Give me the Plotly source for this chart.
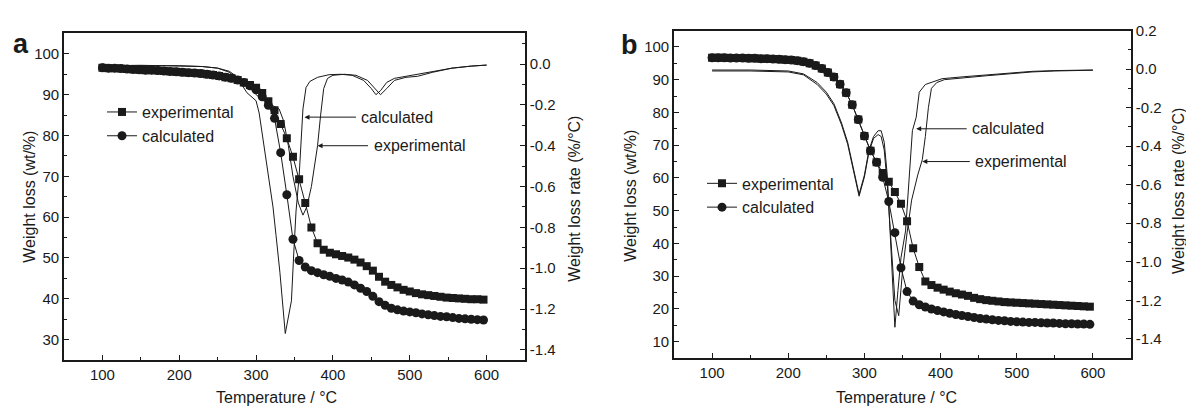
import plotly.graph_objects as go

# ---------------- data ----------------
temps = [100,108,116,124,132,140,148,156,164,172,180,188,196,204,212,220,228,236,244,252,
         260,268,276,284,292,300,308,316,324,332,340,348,356,364,372,380,388,396,404,412,
         420,428,436,444,452,460,468,476,484,492,500,508,516,524,532,540,548,556,564,572,
         580,588,596]

a_tg_exp = [96.6,96.5,96.5,96.4,96.3,96.2,96.1,96.0,96.0,95.9,95.8,95.7,95.6,95.5,95.4,95.3,95.2,95.0,94.8,94.6,
            94.3,94.0,93.6,93.0,92.4,91.7,90.4,88.4,86.2,82.8,79.3,74.8,69.3,63.5,57.5,53.6,52.0,51.3,50.9,50.5,
            50.1,49.6,48.9,48.0,46.9,45.4,44.2,43.4,42.8,42.2,41.8,41.4,41.1,40.9,40.7,40.5,40.3,40.2,40.1,40.0,
            39.9,39.9,39.8]
a_tg_calc = [96.6,96.5,96.5,96.4,96.3,96.2,96.1,96.0,96.0,95.9,95.8,95.7,95.6,95.5,95.4,95.3,95.2,95.0,94.8,94.6,
             94.3,94.0,93.6,93.0,92.2,91.2,89.5,87.4,84.2,75.8,65.5,54.6,49.4,47.8,46.9,46.4,45.9,45.5,45.0,44.6,
             44.1,43.4,42.6,41.8,40.6,39.3,38.4,37.7,37.3,37.0,36.8,36.6,36.3,36.1,35.9,35.7,35.6,35.4,35.2,35.1,
             35.0,34.9,34.8]
b_tg_exp = [96.7,96.7,96.7,96.6,96.6,96.6,96.5,96.5,96.4,96.4,96.3,96.2,96.1,96.0,95.8,95.5,95.0,94.3,93.4,92.2,
            90.8,88.6,86.0,82.3,77.8,72.8,68.3,64.8,61.5,58.8,55.7,52.1,46.8,38.5,32.8,28.4,27.3,26.5,25.9,25.3,
            24.8,24.4,24.0,23.4,23.0,22.7,22.5,22.3,22.1,22.0,21.9,21.8,21.7,21.6,21.5,21.4,21.3,21.2,21.1,21.0,
            20.9,20.8,20.7]
b_tg_calc = [96.7,96.7,96.7,96.6,96.6,96.6,96.5,96.5,96.4,96.4,96.3,96.2,96.1,96.0,95.8,95.5,95.0,94.3,93.4,92.2,
             90.8,88.6,86.0,82.3,77.8,72.8,68.3,64.8,60.2,52.8,43.3,32.6,25.3,22.4,21.3,20.6,20.0,19.5,19.1,18.7,
             18.3,18.0,17.7,17.4,17.1,16.9,16.7,16.5,16.4,16.2,16.1,16.0,15.9,15.9,15.8,15.7,15.7,15.6,15.5,15.5,
             15.4,15.4,15.3]

a_dtg_calc_T = [100,110,150,200,230,250,265,278,288,295,300,304,310,316,322,326,331,338,346,349,
                352,356,359,361,365,370,380,395,410,425,440,450,456,462,470,480,495,510,530,555,580,600]
a_dtg_calc = [0.0,-0.01,-0.008,-0.008,-0.012,-0.02,-0.04,-0.08,-0.14,-0.165,-0.18,-0.24,-0.40,-0.55,-0.70,-0.84,-1.02,-1.32,-1.16,-0.93,
              -0.72,-0.55,-0.35,-0.22,-0.115,-0.085,-0.065,-0.052,-0.05,-0.055,-0.08,-0.12,-0.15,-0.13,-0.09,-0.07,-0.06,-0.05,-0.035,-0.02,-0.01,-0.005]
a_dtg_exp_T = [100,110,150,200,230,250,265,278,290,300,310,320,330,336,342,348,355,361,366,372,
               377,380,384,388,393,400,415,430,445,455,462,470,480,495,510,530,555,580,600]
a_dtg_exp = [0.0,-0.008,-0.006,-0.008,-0.012,-0.02,-0.035,-0.07,-0.11,-0.15,-0.18,-0.20,-0.22,-0.28,-0.40,-0.55,-0.68,-0.74,-0.70,-0.60,
             -0.48,-0.40,-0.25,-0.12,-0.07,-0.055,-0.05,-0.055,-0.08,-0.12,-0.15,-0.12,-0.08,-0.065,-0.06,-0.04,-0.02,-0.01,-0.005]

b_dtg_calc_T = [100,150,200,220,238,250,260,270,278,286,293,300,306,312,318,322,326,330,334,337,
                340,344,348,354,358,363,368,372,380,390,402,430,460,490,520,550,600]
b_dtg_calc = [-0.005,-0.005,-0.01,-0.025,-0.07,-0.12,-0.18,-0.28,-0.38,-0.52,-0.65,-0.55,-0.42,-0.35,-0.32,-0.32,-0.38,-0.55,-0.85,-1.10,
              -1.34,-1.15,-0.98,-0.84,-0.60,-0.32,-0.25,-0.12,-0.08,-0.065,-0.05,-0.04,-0.03,-0.02,-0.012,-0.008,-0.005]
b_dtg_exp_T = [100,150,200,220,238,250,260,270,278,286,293,300,306,312,318,322,326,330,335,340,
               345,350,356,362,370,376,380,384,388,395,405,430,460,490,520,550,600]
b_dtg_exp = [-0.01,-0.01,-0.015,-0.03,-0.08,-0.13,-0.19,-0.29,-0.39,-0.53,-0.66,-0.56,-0.43,-0.36,-0.34,-0.35,-0.42,-0.60,-0.90,-1.20,
             -1.28,-1.05,-0.85,-0.68,-0.55,-0.47,-0.35,-0.20,-0.10,-0.07,-0.055,-0.045,-0.035,-0.025,-0.015,-0.01,-0.006]

x_ticks = [100, 200, 300, 400, 500, 600]
a_left_ticks = [30, 40, 50, 60, 70, 80, 90, 100]
b_left_ticks = [10, 20, 30, 40, 50, 60, 70, 80, 90, 100]
a_right_ticks = [0.0, -0.2, -0.4, -0.6, -0.8, -1.0, -1.2, -1.4]
b_right_ticks = [0.2, 0.0, -0.2, -0.4, -0.6, -0.8, -1.0, -1.2, -1.4]
a_right_text = ["0.0", "-0.2", "-0.4", "-0.6", "-0.8", "-1.0", "-1.2", "-1.4"]
b_right_text = ["0.2", "0.0", "-0.2", "-0.4", "-0.6", "-0.8", "-1.0", "-1.2", "-1.4"]

# ---------------- style ----------------
FONT = "Arial, Liberation Sans, sans-serif"
INK = "#1a1a1a"
W, H = 1186, 407

def px_x(p):
    return p / W

def px_y(p):
    return 1 - p / H

fig = go.Figure()

# panel a
fig.add_trace(go.Scatter(x=a_dtg_calc_T, y=a_dtg_calc, mode="lines", line=dict(color=INK, width=1),
                         xaxis="x", yaxis="y2", showlegend=False))
fig.add_trace(go.Scatter(x=a_dtg_exp_T, y=a_dtg_exp, mode="lines", line=dict(color=INK, width=1),
                         xaxis="x", yaxis="y2", showlegend=False))
fig.add_trace(go.Scatter(x=temps, y=a_tg_exp, mode="lines+markers", name="experimental",
                         line=dict(color=INK, width=1), marker=dict(symbol="square", size=8, color=INK),
                         xaxis="x", yaxis="y", legend="legend"))
fig.add_trace(go.Scatter(x=temps, y=a_tg_calc, mode="lines+markers", name="calculated",
                         line=dict(color=INK, width=1), marker=dict(symbol="circle", size=9, color=INK),
                         xaxis="x", yaxis="y", legend="legend"))

# panel b
fig.add_trace(go.Scatter(x=b_dtg_calc_T, y=b_dtg_calc, mode="lines", line=dict(color=INK, width=1),
                         xaxis="x2", yaxis="y4", showlegend=False))
fig.add_trace(go.Scatter(x=b_dtg_exp_T, y=b_dtg_exp, mode="lines", line=dict(color=INK, width=1),
                         xaxis="x2", yaxis="y4", showlegend=False))
fig.add_trace(go.Scatter(x=temps, y=b_tg_exp, mode="lines+markers", name="experimental",
                         line=dict(color=INK, width=1), marker=dict(symbol="square", size=8, color=INK),
                         xaxis="x2", yaxis="y3", legend="legend2"))
fig.add_trace(go.Scatter(x=temps, y=b_tg_calc, mode="lines+markers", name="calculated",
                         line=dict(color=INK, width=1), marker=dict(symbol="circle", size=9, color=INK),
                         xaxis="x2", yaxis="y3", legend="legend2"))

tickfont = dict(family=FONT, size=15, color=INK)
common_ax = dict(showline=True, linecolor=INK, linewidth=1.6, ticks="inside", ticklen=5, tickwidth=1.2,
                 tickcolor=INK, showgrid=False, zeroline=False, tickfont=tickfont)

fig.update_layout(
    width=W, height=H, margin=dict(l=0, r=0, t=0, b=0),
    paper_bgcolor="white", plot_bgcolor="white",
    font=dict(family=FONT, color=INK),
    xaxis=dict(domain=[px_x(64), px_x(525)], range=[50, 650], tickmode="array", tickvals=x_ticks,
               mirror=True, anchor="y",
               minor=dict(ticks="inside", ticklen=3, tickmode="linear", tick0=50, dtick=50, tickcolor=INK),
               **common_ax),
    yaxis=dict(domain=[1 - 359 / H, 1 - 25 / H], range=[25, 105], tickmode="array", tickvals=a_left_ticks,
               anchor="x",
               minor=dict(ticks="inside", ticklen=3, tickmode="linear", tick0=25, dtick=5, tickcolor=INK),
               **common_ax),
    yaxis2=dict(range=[-1.45, 0.15], overlaying="y", side="right", anchor="x", tickmode="array",
                tickvals=a_right_ticks, ticktext=a_right_text,
                minor=dict(ticks="inside", ticklen=3, tickmode="linear", tick0=0, dtick=0.1, tickcolor=INK),
                **common_ax),
    xaxis2=dict(domain=[px_x(674), px_x(1131)], range=[50, 650], tickmode="array", tickvals=x_ticks,
                mirror=True, anchor="y3",
                minor=dict(ticks="inside", ticklen=3, tickmode="linear", tick0=50, dtick=50, tickcolor=INK),
                **common_ax),
    yaxis3=dict(domain=[1 - 357 / H, 1 - 22 / H], range=[5, 105], tickmode="array", tickvals=b_left_ticks,
                anchor="x2",
                minor=dict(ticks="inside", ticklen=3, tickmode="linear", tick0=5, dtick=5, tickcolor=INK),
                **common_ax),
    yaxis4=dict(range=[-1.5, 0.2], overlaying="y3", side="right", anchor="x2", tickmode="array",
                tickvals=b_right_ticks, ticktext=b_right_text,
                minor=dict(ticks="inside", ticklen=3, tickmode="linear", tick0=0, dtick=0.1, tickcolor=INK),
                **common_ax),
    legend=dict(x=px_x(102), y=px_y(88), xanchor="left", yanchor="top", bgcolor="rgba(0,0,0,0)",
                font=dict(family=FONT, size=16, color=INK), tracegroupgap=0, itemwidth=30),
    legend2=dict(x=px_x(702), y=px_y(161), xanchor="left", yanchor="top", bgcolor="rgba(0,0,0,0)",
                 font=dict(family=FONT, size=16, color=INK), tracegroupgap=0, itemwidth=30),
)

annotations = []
def txt(x, y, s, size=16, angle=0, bold=False):
    annotations.append(dict(x=px_x(x), y=px_y(y), xref="paper", yref="paper", text=("<b>%s</b>" % s if bold else s),
                            showarrow=False, textangle=angle, xanchor="center", yanchor="middle",
                            font=dict(family=FONT, size=size, color=INK)))

txt(276, 397, "Temperature / °C", 16)
txt(896, 397, "Temperature / °C", 16)
txt(30, 192, "Weight loss (wt/%)", 16, -90)
txt(631, 191, "Weight loss (wt/%)", 16, -90)
txt(575, 194, "Weight loss rate (%/°C)", 16, -90)
txt(1179, 186, "Weight loss rate (%/°C)", 16, -90)
txt(21, 36, "a", 27, bold=True)
txt(629, 37, "b", 27, bold=True)

def arrow(xd, yd, xref, yref, text, dx):
    annotations.append(dict(x=xd, y=yd, xref=xref, yref=yref, text=text, showarrow=True,
                            ax=dx, ay=0, arrowhead=2, arrowsize=1, arrowwidth=1, arrowcolor=INK,
                            standoff=0, startstandoff=4, font=dict(family=FONT, size=16, color=INK)))

arrow(363, -0.26, "x", "y2", "calculated", 93)
arrow(380, -0.40, "x", "y2", "experimental", 102)
arrow(368, -0.31, "x2", "y4", "calculated", 92)
arrow(376, -0.48, "x2", "y4", "experimental", 99)

fig.update_layout(annotations=annotations)
fig.write_html("out.html", config={"displayModeBar": False},
               post_script="document.body.style.margin='0px';document.body.style.padding='0px';")
